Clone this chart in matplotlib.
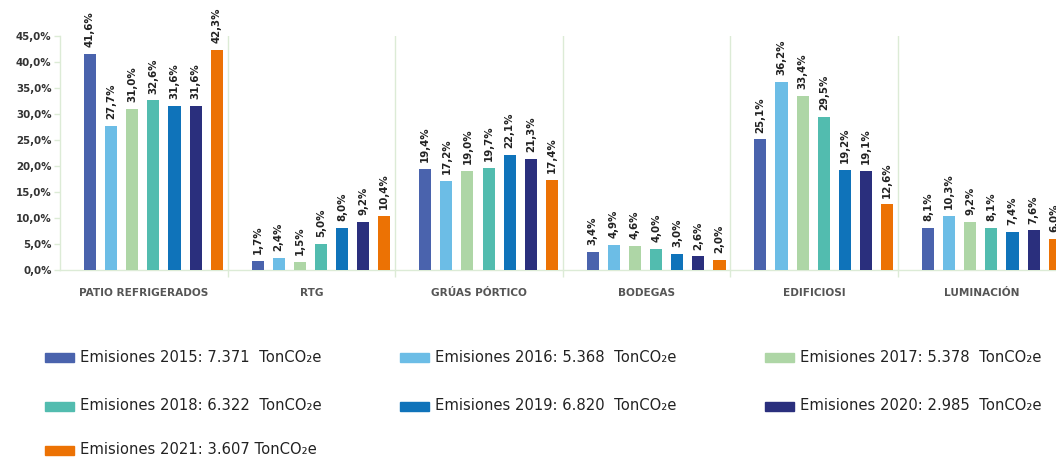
import matplotlib
matplotlib.use("Agg")
import matplotlib.pyplot as plt
import numpy as np
from matplotlib.patches import Rectangle

categories = ["PATIO REFRIGERADOS", "RTG", "GRÚAS PÓRTICO", "BODEGAS", "EDIFICIOSI", "LUMINACIÓN"]
series_names = [
    "Emisiones 2015: 7.371  TonCO₂e",
    "Emisiones 2016: 5.368  TonCO₂e",
    "Emisiones 2017: 5.378  TonCO₂e",
    "Emisiones 2018: 6.322  TonCO₂e",
    "Emisiones 2019: 6.820  TonCO₂e",
    "Emisiones 2020: 2.985  TonCO₂e",
    "Emisiones 2021: 3.607 TonCO₂e",
]
v2015 = [41.6, 1.7, 19.4, 3.4, 25.1, 8.1]
v2016 = [27.7, 2.4, 17.2, 4.9, 36.2, 10.3]
v2017 = [31.0, 1.5, 19.0, 4.6, 33.4, 9.2]
v2018 = [32.6, 5.0, 19.7, 4.0, 29.5, 8.1]
v2019 = [31.6, 8.0, 22.1, 3.0, 19.2, 7.4]
v2020 = [31.6, 9.2, 21.3, 2.6, 19.1, 7.6]
v2021 = [42.3, 10.4, 17.4, 2.0, 12.6, 6.0]
series = [v2015, v2016, v2017, v2018, v2019, v2020, v2021]
colors = ["#4a63ad", "#6cbde6", "#aed6a6", "#52bcaf", "#0f73ba", "#2a2f7d", "#ec7204"]
yticks = [0, 5, 10, 15, 20, 25, 30, 35, 40, 45]

W, H = 1056, 462
fig = plt.figure(figsize=(W / 100, H / 100), dpi=100)
ax = fig.add_axes([60 / W, 192 / H, 1005.6 / W, 234 / H])

x = np.arange(len(categories))
slot = 0.126
bw = 0.072
offset = 0.057
grid_c = "#dcebd6"
for i, (vals, c) in enumerate(zip(series, colors)):
    pos = x + offset + (i - 3) * slot
    bars = ax.bar(pos, vals, width=bw, color=c, zorder=3)
    for b, v in zip(bars, vals):
        ax.annotate(f"{v:.1f}%".replace(".", ","),
                    (b.get_x() + b.get_width() / 2, b.get_height()),
                    xytext=(0, 5), textcoords="offset points",
                    rotation=90, ha="center", va="bottom",
                    fontsize=7.4, fontweight="bold", color="#222222",
                    annotation_clip=False)

ax.set_xlim(-0.5, len(categories) - 0.5)
ax.set_ylim(0, 45)
ax.set_yticks(yticks)
ax.set_yticklabels([f"{t:.1f}%".replace(".", ",") for t in yticks],
                   fontsize=7.4, fontweight="bold", color="#333333")
ax.set_xticks(x)
ax.set_xticklabels(categories, fontsize=7.6, fontweight="bold", color="#555555")
ax.tick_params(axis="x", which="major", length=0, pad=13)
ax.set_xticks(np.arange(len(categories)) + 0.5, minor=True)
ax.tick_params(axis="x", which="minor", length=5, color=grid_c, width=1)
ax.tick_params(axis="y", length=4, color=grid_c, width=1, pad=2)
ax.grid(which="minor", axis="x", color=grid_c, linewidth=1, zorder=0)
for s in ["top", "right"]:
    ax.spines[s].set_visible(False)
for s in ["left", "bottom"]:
    ax.spines[s].set_color(grid_c)
    ax.spines[s].set_linewidth(1)

# Legend (row-wise, 3 columns)
col_x = [45, 400, 765]
row_y = [357, 406, 450]
for i, (name, c) in enumerate(zip(series_names, colors)):
    r, cc = divmod(i, 3)
    px, py = col_x[cc], row_y[r]
    fig.patches.append(Rectangle((px / W, 1 - (py + 4.5) / H), 29 / W, 9 / H,
                                 transform=fig.transFigure, color=c, figure=fig))
    fig.text((px + 35) / W, 1 - py / H, name, fontsize=10.6, color="#222222",
             va="center", ha="left")

fig.savefig("out.png", dpi=100)
